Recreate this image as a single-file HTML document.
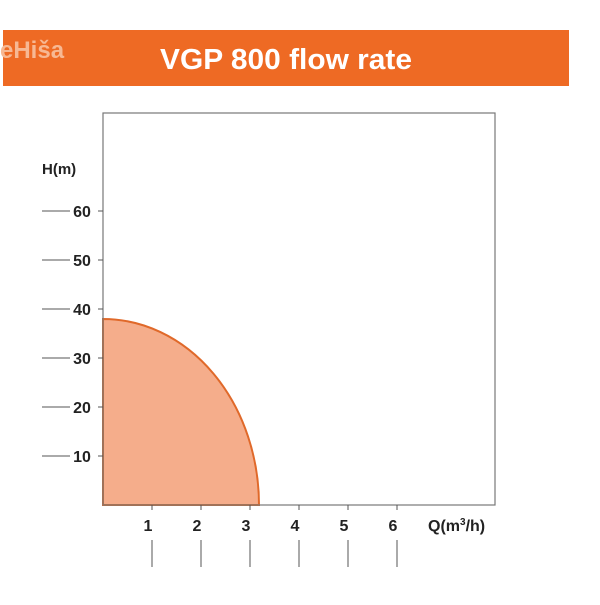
<!DOCTYPE html>
<html><head><style>body{margin:0;background:#fff}</style></head><body>
<svg width="600" height="600" viewBox="0 0 600 600" xmlns="http://www.w3.org/2000/svg" font-family="Liberation Sans, sans-serif">
<rect x="3" y="30" width="566" height="56" fill="#ee6a24"/>
<text x="0" y="58" font-size="24" font-weight="bold" fill="#f7b893">eHiša</text>
<text x="286" y="69" font-size="29" font-weight="bold" fill="#fff" text-anchor="middle" textLength="252" lengthAdjust="spacingAndGlyphs">VGP 800 flow rate</text>
<path d="M103 505 L103 319 A156 186 0 0 1 259 505 Z" fill="#f5ad8b" stroke="#e0692a" stroke-width="2"/>
<rect x="103" y="113" width="392" height="392" fill="none" stroke="#777" stroke-width="1.2"/>
<g stroke="#555" stroke-width="1">
<line x1="42" y1="211" x2="70" y2="211"/><line x1="98" y1="211" x2="103" y2="211"/>
<line x1="42" y1="260" x2="70" y2="260"/><line x1="98" y1="260" x2="103" y2="260"/>
<line x1="42" y1="309" x2="70" y2="309"/><line x1="98" y1="309" x2="103" y2="309"/>
<line x1="42" y1="358" x2="70" y2="358"/><line x1="98" y1="358" x2="103" y2="358"/>
<line x1="42" y1="407" x2="70" y2="407"/><line x1="98" y1="407" x2="103" y2="407"/>
<line x1="42" y1="456" x2="70" y2="456"/><line x1="98" y1="456" x2="103" y2="456"/>
<line x1="152" y1="505" x2="152" y2="510"/><line x1="152" y1="540" x2="152" y2="567"/>
<line x1="201" y1="505" x2="201" y2="510"/><line x1="201" y1="540" x2="201" y2="567"/>
<line x1="250" y1="505" x2="250" y2="510"/><line x1="250" y1="540" x2="250" y2="567"/>
<line x1="299" y1="505" x2="299" y2="510"/><line x1="299" y1="540" x2="299" y2="567"/>
<line x1="348" y1="505" x2="348" y2="510"/><line x1="348" y1="540" x2="348" y2="567"/>
<line x1="397" y1="505" x2="397" y2="510"/><line x1="397" y1="540" x2="397" y2="567"/>
</g>
<g font-size="16" font-weight="bold" fill="#222">
<text x="42" y="174" font-size="15">H(m)</text>
<g text-anchor="middle">
<text x="82" y="217">60</text><text x="82" y="266">50</text><text x="82" y="315">40</text>
<text x="82" y="364">30</text><text x="82" y="413">20</text><text x="82" y="462">10</text>
<text x="148" y="531">1</text><text x="197" y="531">2</text><text x="246" y="531">3</text>
<text x="295" y="531">4</text><text x="344" y="531">5</text><text x="393" y="531">6</text>
</g>
<text x="428" y="531">Q(m<tspan font-size="10" dy="-6">3</tspan><tspan dy="6">/h)</tspan></text>
</g>
</svg>
</body></html>
